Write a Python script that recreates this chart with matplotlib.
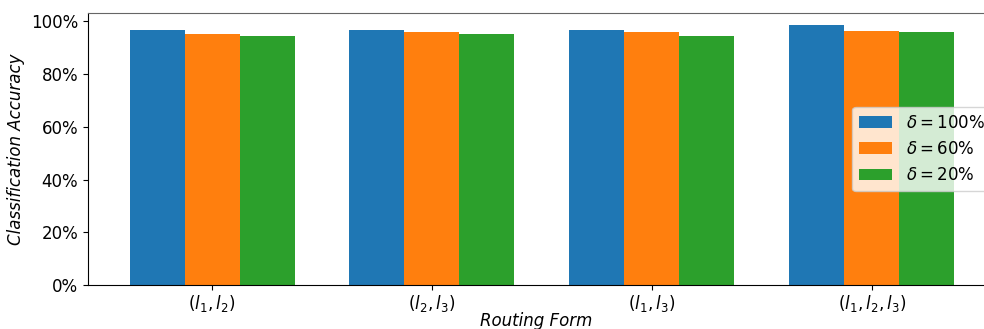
import matplotlib.pyplot as plt
import numpy as np
from matplotlib.ticker import PercentFormatter

# Routing forms and accuracy (%) per delta setting
forms = [r'$(l_1, l_2)$', r'$(l_2, l_3)$', r'$(l_1, l_3)$', r'$(l_1, l_2, l_3)$']
acc_100 = [96.8, 96.7, 96.7, 98.5]
acc_60 = [95.3, 96.0, 96.0, 96.5]
acc_20 = [94.5, 95.1, 94.4, 96.0]
labels = [r'$\delta = 100\%$', r'$\delta = 60\%$', r'$\delta = 20\%$']

fig = plt.figure(figsize=(9.84, 3.29), dpi=100)
ax = fig.add_axes([88 / 984, 44 / 329, 896 / 984, 272 / 329])

x = np.arange(len(forms))
w = 0.25
ax.bar(x - w, acc_100, width=w, color='#1f77b4', label=labels[0])
ax.bar(x, acc_60, width=w, color='#ff7f0e', label=labels[1])
ax.bar(x + w, acc_20, width=w, color='#2ca02c', label=labels[2])

ax.set_xlim(-0.564, 3.51)
ax.set_ylim(0, 103.2)
ax.set_yticks(np.arange(0, 101, 20))
ax.yaxis.set_major_formatter(PercentFormatter(decimals=0))
ax.set_xticks(x)
ax.set_xticklabels(forms, fontsize=12)
ax.tick_params(axis='y', labelsize=12)
ax.tick_params(axis='x', pad=2)
ax.set_ylabel('Classification Accuracy', fontsize=12, style='italic')
ax.set_xlabel('Routing Form', fontsize=12, style='italic', labelpad=-1)

ax.spines['top'].set_color('#666666')
ax.spines['right'].set_visible(False)

ax.legend(loc='center left', bbox_to_anchor=(0.853, 0.5), borderaxespad=0, fontsize=12)

fig.savefig('out.png', dpi=100)
